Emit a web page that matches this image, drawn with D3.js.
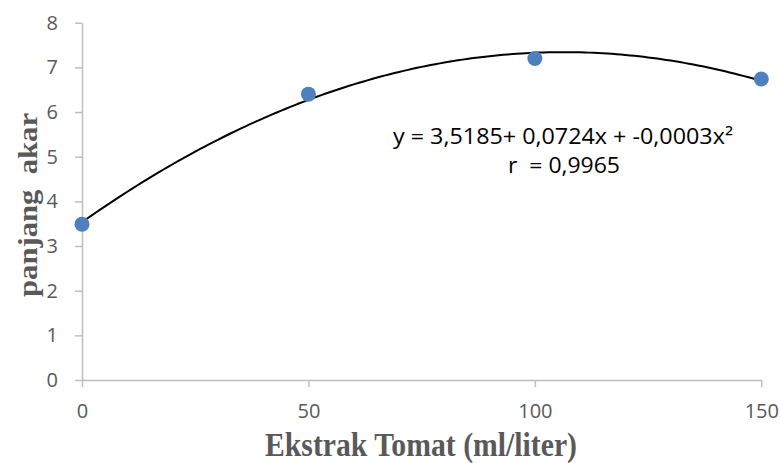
<!DOCTYPE html>
<html>
<head>
<meta charset="utf-8">
<script src="https://cdn.jsdelivr.net/npm/d3@7"></script>
<style>
  body { margin: 0; background: #fff; }
  text { white-space: pre; }
</style>
</head>
<body>
<script>
const width = 780;
const height = 463;

// data
const dose = [0, 50, 100, 150];
const rootLength = [3.49, 6.40, 7.20, 6.74];
const xTicks = [0, 50, 100, 150];
const yTicks = [0, 1, 2, 3, 4, 5, 6, 7, 8];
const equationLines = ["y = 3,5185+ 0,0724x + -0,0003x²", "r  = 0,9965"];

const x = d3.scaleLinear().domain([0, 150]).range([82, 761.3]);
const y = d3.scaleLinear().domain([0, 8]).range([380, 22.7]);

const svg = d3.select("body").append("svg")
  .attr("width", width)
  .attr("height", height);

function styleAxis(g) {
  g.select(".domain").attr("stroke", "#bfbfbf").attr("stroke-width", 1.5);
  g.selectAll(".tick line").attr("stroke", "#bfbfbf").attr("stroke-width", 1.5);
  g.selectAll(".tick text")
    .attr("fill", "#595959")
    .attr("font-family", "'Open Sans', 'Noto Sans', sans-serif")
    .attr("font-size", 20);
}

// y axis
svg.append("g")
  .attr("transform", `translate(${x(0)},0)`)
  .call(d3.axisLeft(y).tickValues(yTicks).tickSize(7).tickSizeOuter(0).tickPadding(17))
  .call(styleAxis);

// x axis
svg.append("g")
  .attr("transform", `translate(0,${y(0)})`)
  .call(d3.axisBottom(x).tickValues(xTicks).tickSize(7).tickSizeOuter(0).tickPadding(17))
  .call(styleAxis);

// quadratic least-squares trendline through the points
function quadFit(xs, ys) {
  let s = [0, 0, 0, 0, 0], t = [0, 0, 0];
  xs.forEach((xv, i) => {
    for (let k = 0; k < 5; k++) s[k] += Math.pow(xv, k);
    for (let k = 0; k < 3; k++) t[k] += Math.pow(xv, k) * ys[i];
  });
  const m = [[s[0], s[1], s[2], t[0]], [s[1], s[2], s[3], t[1]], [s[2], s[3], s[4], t[2]]];
  for (let i = 0; i < 3; i++) {
    for (let j = i + 1; j < 3; j++) {
      const f = m[j][i] / m[i][i];
      for (let k = i; k < 4; k++) m[j][k] -= f * m[i][k];
    }
  }
  const c = [0, 0, 0];
  for (let i = 2; i >= 0; i--) {
    let v = m[i][3];
    for (let k = i + 1; k < 3; k++) v -= m[i][k] * c[k];
    c[i] = v / m[i][i];
  }
  return c;
}
const coef = quadFit(dose, rootLength);
const curveX = d3.range(0, 150.01, 1);

svg.append("path")
  .datum(curveX)
  .attr("fill", "none")
  .attr("stroke", "#000")
  .attr("stroke-width", 2)
  .attr("d", d3.line()
    .x(d => x(d))
    .y(d => y(coef[0] + coef[1] * d + coef[2] * d * d)));

// points
svg.selectAll("circle.pt")
  .data(dose)
  .enter().append("circle")
  .attr("class", "pt")
  .attr("cx", d => x(d))
  .attr("cy", (d, i) => y(rootLength[i]))
  .attr("r", 7.5)
  .attr("fill", "#4e80bd");

// equation
svg.append("text")
  .attr("x", 393).attr("y", 144)
  .attr("textLength", 340).attr("lengthAdjust", "spacingAndGlyphs")
  .style("font-family", "'Open Sans', 'Noto Sans', sans-serif")
  .style("font-size", "21px")
  .attr("fill", "#000")
  .text(equationLines[0]);
svg.append("text")
  .attr("x", 508).attr("y", 173)
  .attr("textLength", 112).attr("lengthAdjust", "spacingAndGlyphs")
  .style("font-family", "'Open Sans', 'Noto Sans', sans-serif")
  .style("font-size", "21px")
  .attr("fill", "#000")
  .text(equationLines[1]);

// axis titles
svg.append("text")
  .attr("transform", "translate(37,205) rotate(-90)")
  .attr("text-anchor", "middle")
  .attr("textLength", 184).attr("lengthAdjust", "spacingAndGlyphs")
  .style("font-family", "'Liberation Serif', 'Times New Roman', serif")
  .style("font-weight", "bold")
  .style("font-size", "27px")
  .attr("fill", "#595959")
  .text("panjang  akar");

svg.append("text")
  .attr("x", 421).attr("y", 456)
  .attr("text-anchor", "middle")
  .attr("textLength", 312).attr("lengthAdjust", "spacingAndGlyphs")
  .style("font-family", "'Liberation Serif', 'Times New Roman', serif")
  .style("font-weight", "bold")
  .style("font-size", "33px")
  .attr("fill", "#595959")
  .text("Ekstrak Tomat (ml/liter)");
</script>
</body>
</html>
